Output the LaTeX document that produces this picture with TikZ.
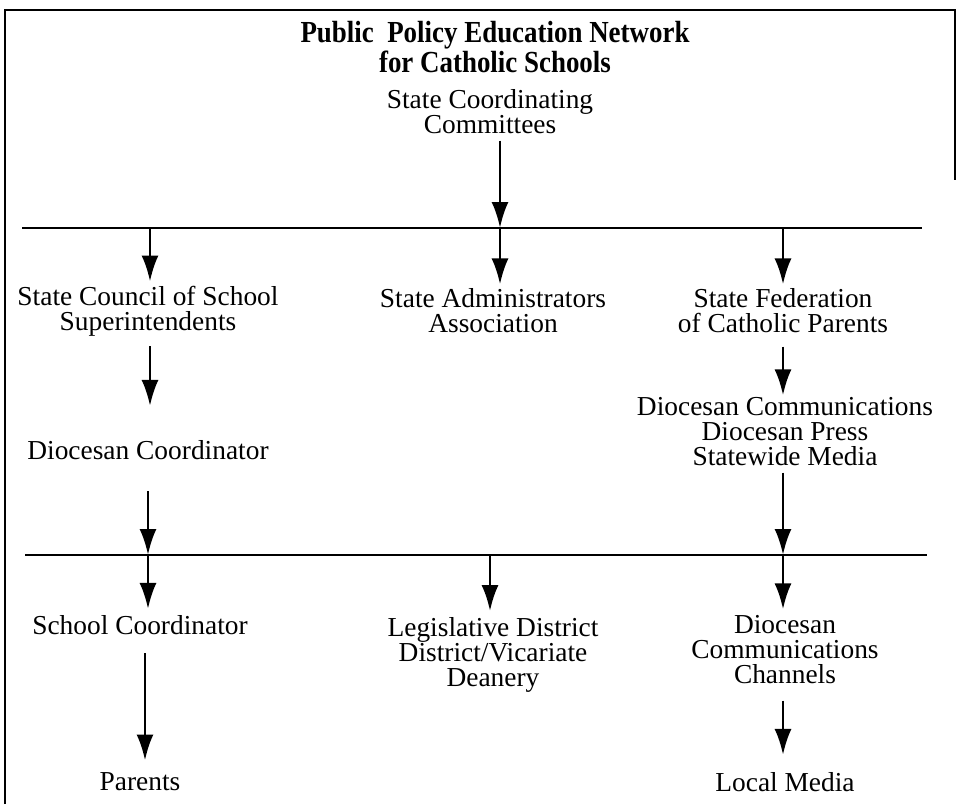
\documentclass[tikz,border=0pt]{standalone}
\usepackage{fontspec}
\setmainfont{Liberation Serif}
\newfontfamily\headfont{Liberation Serif}[FakeStretch=0.88]
\usepackage{tikz}
\usetikzlibrary{positioning}
\usetikzlibrary{arrows.meta}
\tikzset{>=latex}
\tikzstyle{entry}=[align=center, inner sep=0pt, font=\fontsize{13.7}{12.5}\selectfont]
\tikzstyle{heading}=[align=center, inner sep=0pt, font=\headfont\fontsize{15.3}{12.5}\selectfont\bfseries]
\tikzstyle{flow}=[-{Latex[length=13pt,width=8.5pt]}, line width=1.4pt]
\tikzstyle{rail}=[line width=1.3pt]

\begin{document}
\begin{tikzpicture}[x=0.5pt, y=-0.5pt]
    \useasboundingbox (0,0) rectangle (958,804);

    % frame round the chart
    \draw[line width=1pt] (5,804) -- (5,10) -- (955,10) -- (955,180);

    % title and top entry
    \node[heading] (title) at (495,47) {Public~ Policy Education Network\\for Catholic Schools};
    \node[entry] (coord) at (490,112) {State Coordinating\\Committees};

    % the two rails with their junctions
    \coordinate (up1) at (150,228);
    \coordinate (up2) at (500,228);
    \coordinate (up3) at (783,228);
    \coordinate (lo1) at (148,555);
    \coordinate (lo2) at (490,555);
    \coordinate (lo3) at (783,555);
    \draw[rail] (22,228) -- (922,228);
    \draw[rail] (25,555) -- (927,555);

    % second level
    \node[entry] (council) at (148,311) {State Council of School\\Superintendents};
    \node[entry] (admin) at (493,311) {State Administrators\\Association};
    \node[entry] (parentsfed) at (783,311) {State Federation\\of Catholic Parents};

    % diocesan level
    \node[entry] (dioc) at (148,450) {Diocesan Coordinator};
    \node[entry] (media) at (785,432) {Diocesan Communications\\Diocesan Press\\Statewide Media};

    % local level
    \node[entry] (school) at (140,625) {School Coordinator};
    \node[entry] (district) at (493,655) {Legislative District\\District/Vicariate\\Deanery};
    \node[entry] (channels) at (785,650) {Diocesan\\Communications\\Channels};
    \node[entry] (parents) at (140,782) {Parents};
    \node[entry] (local) at (785,782) {Local Media};

    % arrows into the upper rail and out of it
    \draw[flow, shorten <=3pt] (coord.south -| up2) -- (up2);
    \draw[flow, shorten >=2pt] (up1) -- (up1 |- council.north);
    \draw[flow, shorten >=2pt] (up2) -- (up2 |- admin.north);
    \draw[flow, shorten >=2pt] (up3) -- (up3 |- parentsfed.north);

    % down to the diocesan level
    \draw[flow, shorten <=5pt, shorten >=17pt] (council.south -| up1) -- (up1 |- dioc.north);
    \draw[flow, shorten <=6.5pt, shorten >=1pt] (parentsfed.south -| up3) -- (up3 |- media.north);

    % into the lower rail and out of it
    \draw[flow, shorten <=15.5pt] (dioc.south -| lo1) -- (lo1);
    \draw[flow, shorten <=3pt] (media.south -| lo3) -- (lo3);
    \draw[flow, shorten >=3pt] (lo1) -- (lo1 |- school.north);
    \draw[flow, shorten >=3pt] (lo2) -- (lo2 |- district.north);
    \draw[flow, shorten >=3pt] (lo3) -- (lo3 |- channels.north);

    % last step
    \draw[flow, shorten <=9pt, shorten >=6pt] ([xshift=2.5pt]school.south) -- ([xshift=2.5pt]parents.north);
    \draw[flow, shorten <=8pt, shorten >=8.5pt] (channels.south -| lo3) -- (lo3 |- local.north);
\end{tikzpicture}
\end{document}
